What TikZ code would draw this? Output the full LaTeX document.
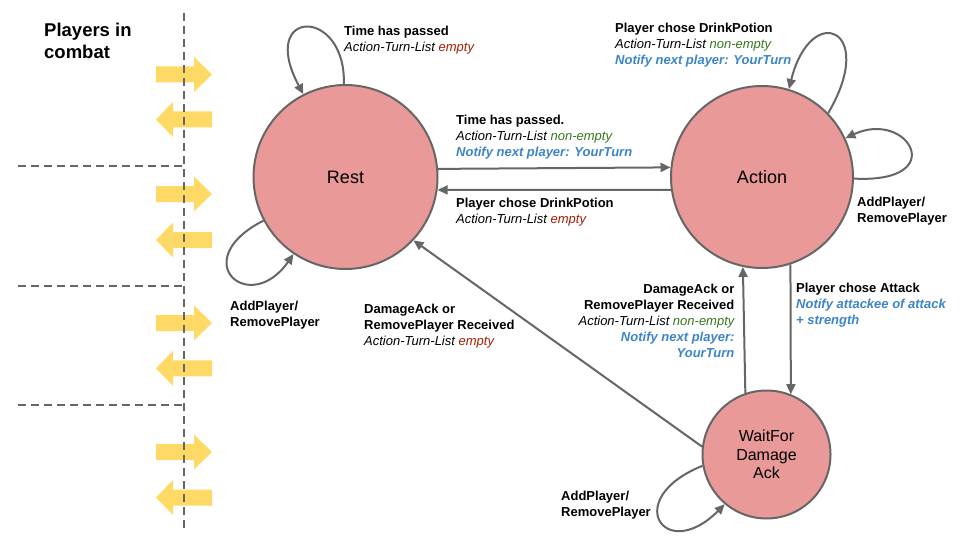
\documentclass[tikz,border=0pt]{standalone}
\usepackage{fontspec}
\setmainfont{Liberation Sans}
\usetikzlibrary{arrows.meta}
\definecolor{edgegray}{HTML}{666666}
\definecolor{statefill}{HTML}{EA9999}
\definecolor{ylw}{HTML}{FFD966}
\definecolor{redtxt}{HTML}{A61C00}
\definecolor{greentxt}{HTML}{38761D}
\definecolor{bluetxt}{HTML}{3D85C6}
\begin{document}
\begin{tikzpicture}[x=1pt,y=-1pt,
  state/.style={circle, draw=edgegray, line width=2pt, fill=statefill, inner sep=0pt, align=center},
  trans/.style={draw=edgegray, line width=2pt, -{Triangle[length=10pt,width=9pt]}},
  lbl/.style={anchor=base west, inner sep=0pt, align=left, font=\fontsize{13}{16}\selectfont},
  lblr/.style={anchor=base east, inner sep=0pt, align=right, font=\fontsize{13}{16}\selectfont},
  divider/.style={draw=edgegray, line width=2pt, dash pattern=on 8pt off 5pt},
  yarrow/.style={fill=ylw}
]
\useasboundingbox (0,0) rectangle (960,540);
\fill[white] (0,0) rectangle (960,540);

% yellow arrows
\foreach \c in {74.5,194,323,452} {
  \fill[yarrow] (156,\c-8) -- (194,\c-8) -- (194,\c-17.5) -- (212,\c) -- (194,\c+17.5) -- (194,\c+8) -- (156,\c+8) -- cycle;
}
\foreach \c in {119.5,240,368.3,497.5} {
  \fill[yarrow] (212,\c-8) -- (173,\c-8) -- (173,\c-17.5) -- (156,\c) -- (173,\c+17.5) -- (173,\c+8) -- (212,\c+8) -- cycle;
}

% dividers
\draw[divider] (184,13) -- (184,528);
\foreach \y in {166,286,405} {
  \draw[divider] (18,\y) -- (182,\y);
}

\node[anchor=base west, inner sep=0pt, align=left, font=\fontsize{18.5}{21.7}\selectfont\bfseries] (title) at (44,58.2) {Players in\\combat};

% states
\node[state, minimum size=184pt, font=\fontsize{18}{21}\selectfont] (rest) at (345.5,177) {Rest};
\node[state, minimum size=182pt, font=\fontsize{18}{21}\selectfont] (action) at (762,177) {Action};
\node[state, minimum size=128pt, font=\fontsize{16}{18.3}\selectfont] (wait) at (766.5,454.5) {WaitFor\\Damage\\Ack};

% transitions
\draw[trans] (rest.5.6) -- (action.174.3);
\draw[trans] (action.188.66) -- (rest.-8.56);
\draw[trans] (action.-72.1) -- (wait.68.5);
\draw[trans] (wait.109) -- (action.-102);
\draw[trans] (wait.173.4) -- (rest.-43.9);
\draw[trans] (rest.91) .. controls +(2,-78) and +(-46,-86) .. (rest.117);
\draw[trans] (rest.208.6) .. controls +(-78,40) and +(-44,63) .. (rest.236.3);
\draw[trans] (action.44.6) .. controls +(50,-85) and +(22,-88) .. (action.73);
\draw[trans] (action.-1.9) .. controls +(97,5) and +(63,-29) .. (action.25.5);
\draw[trans] (wait.190.9) .. controls +(-82,33) and +(-60,60) .. (wait.230.6);

% labels
\node[lbl] (l1) at (344,51.5) {\textbf{Time has passed}\\\textit{Action-Turn-List \textcolor{redtxt}{empty}}};
\node[lbl] (l2) at (615,65) {\textbf{Player chose DrinkPotion}\\\textit{Action-Turn-List \textcolor{greentxt}{non-empty}}\\\textcolor{bluetxt}{\textbf{\textit{Notify next player: YourTurn}}}};
\node[lbl] (l3) at (456,157) {\textbf{Time has passed.}\\\textit{Action-Turn-List \textcolor{greentxt}{non-empty}}\\\textcolor{bluetxt}{\textbf{\textit{Notify next player: YourTurn}}}};
\node[lbl] (l4) at (456,223) {\textbf{Player chose DrinkPotion}\\\textit{Action-Turn-List \textcolor{redtxt}{empty}}};
\node[lbl] (l5) at (857,222.5) {\textbf{AddPlayer/}\\\textbf{RemovePlayer}};
\node[lbl] (l6) at (230,326) {\textbf{AddPlayer/}\\\textbf{RemovePlayer}};
\node[lbl] (l7) at (364,345) {\textbf{DamageAck or}\\\textbf{RemovePlayer Received}\\\textit{Action-Turn-List \textcolor{redtxt}{empty}}};
\node[lblr] (l8) at (734.6,357) {\textbf{DamageAck or}\\\textbf{RemovePlayer Received}\\\textit{Action-Turn-List \textcolor{greentxt}{non-empty}}\\\textcolor{bluetxt}{\textbf{\textit{Notify next player:}}}\\\textcolor{bluetxt}{\textbf{\textit{YourTurn}}}};
\node[lbl] (l9) at (796,324.5) {\textbf{Player chose Attack}\\\textcolor{bluetxt}{\textbf{\textit{Notify attackee of attack}}}\\\textcolor{bluetxt}{\textbf{\textit{+ strength}}}};
\node[lbl] (l10) at (561,516) {\textbf{AddPlayer/}\\\textbf{RemovePlayer}};
\end{tikzpicture}
\end{document}
